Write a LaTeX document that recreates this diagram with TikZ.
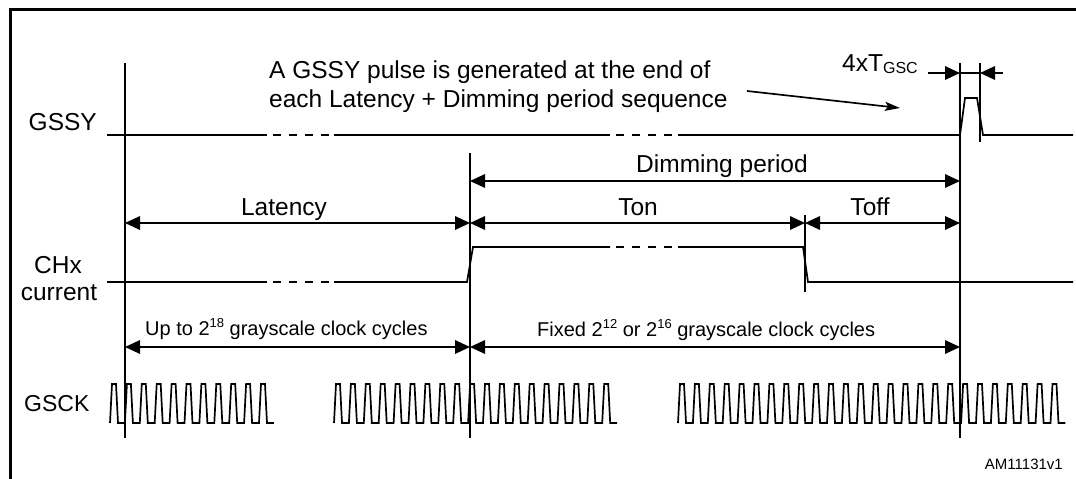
\documentclass[tikz,border=0pt]{standalone}
\usepackage{fontspec}
\setmainfont{Liberation Sans}
\usetikzlibrary{arrows.meta}
\newcommand{\mysups}[1]{\raisebox{7.5pt}{\fontsize{13}{13}\selectfont #1}}
\begin{document}
\begin{tikzpicture}[x=1pt,y=-1pt,
  sig/.style={line width=1.7pt, line join=miter},
  vline/.style={line width=1.7pt},
  dsh/.style={line width=1.7pt, dash pattern=on 8pt off 8pt, dash phase=10pt},
  dim/.style={line width=1.7pt, {Triangle[length=15pt,width=13.5pt]}-{Triangle[length=15pt,width=13.5pt]}},
  tipr/.style={line width=1.7pt, -{Triangle[length=15pt,width=13.5pt]}},
  annarrow/.style={line width=1.7pt, -{Stealth[length=15pt,width=9pt,inset=3pt]}},
  lbl/.style={inner sep=0pt, font=\fontsize{24.5}{28}\selectfont},
  smalllbl/.style={inner sep=0pt, font=\fontsize{20}{24}\selectfont},
]
\useasboundingbox (0,0) rectangle (1076,479);
% frame
\draw[line width=3pt] (10,490) -- (10,9) -- (1090,9);

% vertical reference lines
\coordinate (v1t) at (125,63);  \coordinate (v1b) at (125,438);
\coordinate (v2t) at (470,153); \coordinate (v2b) at (470,438);
\coordinate (v3t) at (960,63);  \coordinate (v3b) at (960,438);
\coordinate (v4t) at (805,215); \coordinate (v4b) at (805,292);
\coordinate (v5t) at (980,63);  \coordinate (v5b) at (980,142);
\foreach \v in {v1,v2,v3,v4,v5} \draw[vline] (\v t) -- (\v b);

% rows for dimension arrows
\coordinate (rowT) at (0,73);
\coordinate (rowDim) at (0,181);
\coordinate (rowLat) at (0,223);
\coordinate (rowCyc) at (0,347);

% GSSY signal
\draw[sig] (107,135) -- (267,135);
\draw[dsh] (267,135) -- (334,135);
\draw[sig] (334,135) -- (610,135);
\draw[dsh] (610,135) -- (678,135);
\draw[sig] (678,135) -- (960,135) -- (965,98) -- (977,98) -- (983,135) -- (1073,135);

% CHx current signal
\draw[sig] (107,282) -- (267,282);
\draw[dsh] (267,282) -- (334,282);
\draw[sig] (334,282) -- (467,282) -- (473,247) -- (610,247);
\draw[dsh] (610,247) -- (678,247);
\draw[sig] (678,247) -- (803,247) -- (808,282) -- (1073,282);

% GSCK clock
\draw[sig] (110,423) \foreach \i in {1,...,11}{ -- ++(2,-39) -- ++(4,0) -- ++(2,39) -- ++(6.9,0)};
\draw[sig] (334,423) \foreach \i in {1,...,19}{ -- ++(2,-39) -- ++(4,0) -- ++(2,39) -- ++(6.9,0)};
\draw[sig] (678,423) \foreach \i in {1,...,26}{ -- ++(2,-39) -- ++(4,0) -- ++(2,39) -- ++(6.9,0)};

% dimension arrows
\draw[dim] (v2t |- rowDim) -- (v3t |- rowDim);
\draw[dim] (v1t |- rowLat) -- (v2t |- rowLat);
\draw[dim] (v2t |- rowLat) -- (v4t |- rowLat);
\draw[dim] (v4t |- rowLat) -- (v3t |- rowLat);
\draw[dim] (v1t |- rowCyc) -- (v2t |- rowCyc);
\draw[dim] (v2t |- rowCyc) -- (v3t |- rowCyc);
\coordinate (tl) at (928,73);
\coordinate (tr) at (1003,73);
\draw[tipr] (tl) -- (v3t |- rowT);
\draw[tipr] (tr) -- (v5t |- rowT);
\draw[vline] (v3t |- rowT) -- (v5t |- rowT);

% labels
\node[lbl, anchor=base west] (ann1) at (269,78) {A GSSY pulse is generated at the end of};
\node[lbl, anchor=base west] (ann2) at (269,107) {each Latency + Dimming period sequence};
\coordinate (annA) at (747,91);
\coordinate (annB) at (900,108);
\draw[annarrow] (annA) -- (annB);
\node[lbl, anchor=base east] (gssy) at (97,130) {GSSY};
\node[lbl, anchor=base] (dimlbl) at (722,172) {Dimming period};
\node[lbl, anchor=base] (latlbl) at (284,215) {Latency};
\node[lbl, anchor=base] (tonlbl) at (638,215) {Ton};
\node[lbl, anchor=base] (tofflbl) at (870,215) {Toff};
\node[lbl, anchor=base] (chx1) at (58,273) {CHx};
\node[lbl, anchor=base] (chx2) at (59,300) {current};
\node[smalllbl, anchor=base west] (upto) at (145,335) {Up to 2\mysups{18} grayscale clock cycles};
\node[smalllbl, anchor=base west] (fixed) at (537,336) {Fixed 2\mysups{12} or 2\mysups{16} grayscale clock cycles};
\node[lbl, anchor=base west, font=\fontsize{23}{27}\selectfont] (gsck) at (24,411) {GSCK};
\node[lbl, anchor=base west] (tgsc) at (842,71) {4xT\raisebox{-2.5pt}{\fontsize{16}{16}\selectfont GSC}};
\node[inner sep=0pt, font=\fontsize{15}{18}\selectfont, anchor=base east] (am) at (1063,469) {AM11131v1};
\end{tikzpicture}
\end{document}
